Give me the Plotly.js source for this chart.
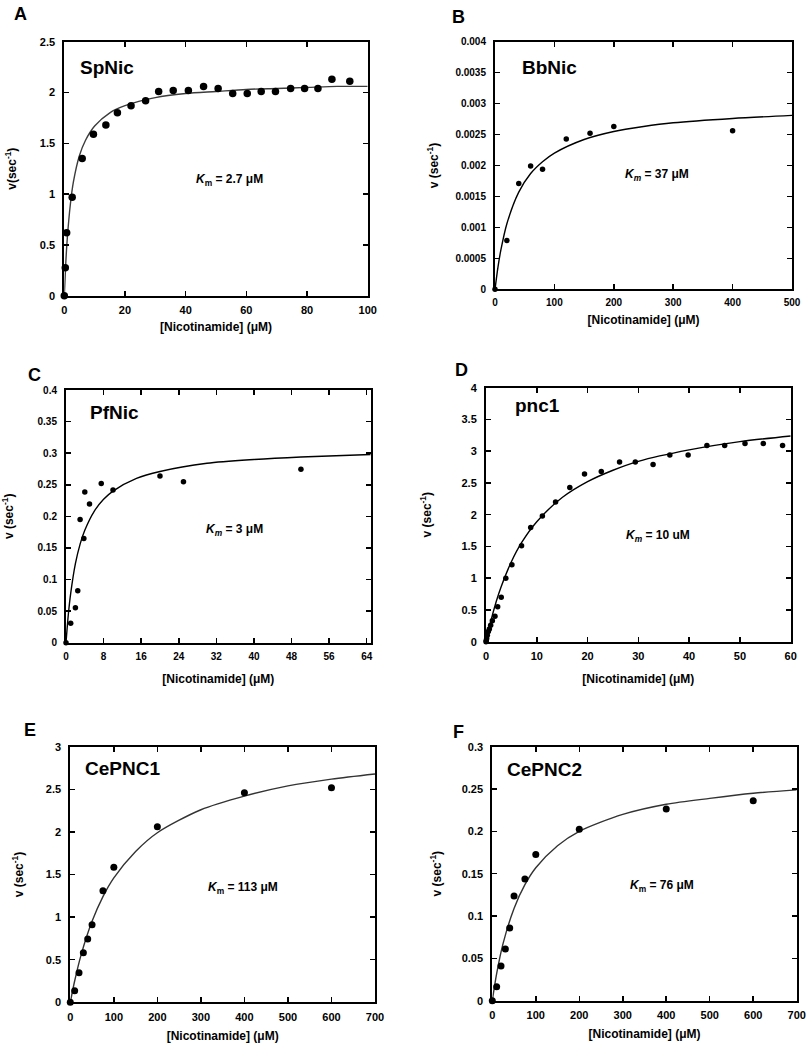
<!DOCTYPE html>
<html>
<head>
<meta charset="utf-8">
<script src="https://cdn.plot.ly/plotly-3.0.1.min.js"></script>
<style>html,body{margin:0;padding:0;background:#fff;}#chart{width:811px;height:1050px;}</style>
</head>
<body>
<div id="chart"></div>
<script>
// ---------- Data ----------
// Panel A: SpNic
const A_x = [0, 0.33, 0.77, 2.6, 5.9, 9.6, 13.7, 17.5, 22.0, 26.8, 31.1, 35.9, 40.9, 45.9, 50.7, 55.5, 60.3, 64.9, 69.6, 74.6, 79.2, 83.6, 88.2, 94.1];
const A_y = [0, 0.276, 0.62, 0.97, 1.35, 1.59, 1.68, 1.80, 1.87, 1.92, 2.01, 2.02, 2.02, 2.06, 2.04, 1.99, 1.99, 2.01, 2.01, 2.04, 2.04, 2.04, 2.13, 2.11];
const A_fitX = [0, 0.5, 1, 2, 3, 5, 7, 10, 15, 20, 30, 40, 50, 60, 70, 80, 90, 100];
const A_fitY = [0, 0.33, 0.57, 0.90, 1.12, 1.38, 1.53, 1.67, 1.80, 1.87, 1.95, 1.99, 2.01, 2.03, 2.04, 2.05, 2.06, 2.06];

// Panel B: BbNic
const B_x = [0, 20, 40, 60, 80, 120, 160, 200, 400];
const B_y = [0, 0.00079, 0.00171, 0.00199, 0.00194, 0.00243, 0.00252, 0.00263, 0.00256];
const B_fitX = [0, 5, 10, 20, 40, 60, 80, 100, 150, 200, 250, 300, 400, 500];
const B_fitY = [0, 0.00036, 0.00064, 0.00106, 0.00157, 0.00187, 0.00206, 0.00220, 0.00242, 0.00255, 0.00263, 0.00269, 0.00276, 0.00281];

// Panel C: PfNic
const C_x = [0, 1, 2, 2.5, 3, 3.8, 4, 5, 7.5, 10, 20, 25, 50];
const C_y = [0, 0.0306, 0.0554, 0.0823, 0.195, 0.165, 0.2385, 0.2195, 0.252, 0.2417, 0.2639, 0.2549, 0.2744];
const C_fitX = [0, 0.5, 1, 2, 3, 4, 6, 8, 10, 15, 20, 30, 40, 50, 64.85];
const C_fitY = [0, 0.045, 0.078, 0.125, 0.156, 0.178, 0.208, 0.227, 0.240, 0.260, 0.271, 0.284, 0.290, 0.294, 0.298];

// Panel D: pnc1
const D_x = [0, 0.05, 0.13, 0.26, 0.46, 0.66, 0.92, 1.25, 1.77, 2.3, 3.0, 3.9, 5.1, 7.0, 8.8, 11.1, 13.7, 16.5, 19.4, 22.7, 26.3, 29.4, 32.9, 36.2, 39.8, 43.5, 47.0, 51.0, 54.6, 58.4];
const D_y = [0, 0.02, 0.05, 0.10, 0.16, 0.20, 0.26, 0.33, 0.40, 0.55, 0.70, 1.00, 1.21, 1.51, 1.80, 1.98, 2.20, 2.43, 2.64, 2.68, 2.83, 2.83, 2.79, 2.94, 2.94, 3.09, 3.09, 3.12, 3.12, 3.09];
const D_fitX = [0, 1, 2, 3, 5, 7, 10, 15, 20, 25, 30, 40, 50, 60];
const D_fitY = [0, 0.34, 0.63, 0.87, 1.26, 1.56, 1.89, 2.27, 2.52, 2.70, 2.84, 3.02, 3.15, 3.24];

// Panel E: CePNC1
const E_x = [0, 10, 20, 30, 40, 50, 75, 100, 200, 400, 600];
const E_y = [0, 0.137, 0.348, 0.583, 0.743, 0.911, 1.310, 1.584, 2.061, 2.46, 2.519];
const E_fitX = [0, 10, 25, 50, 75, 100, 150, 200, 300, 400, 500, 600, 700];
const E_fitY = [0, 0.25, 0.56, 0.95, 1.24, 1.46, 1.77, 1.99, 2.26, 2.42, 2.54, 2.62, 2.68];

// Panel F: CePNC2
const F_x = [0, 10, 20, 30, 40, 50, 75, 100, 200, 400, 600];
const F_y = [0, 0.0165, 0.041, 0.061, 0.0858, 0.1236, 0.1437, 0.1728, 0.2024, 0.2264, 0.2362];
const F_fitX = [0, 10, 25, 50, 75, 100, 150, 200, 300, 400, 500, 600, 700];
const F_fitY = [0, 0.032, 0.068, 0.109, 0.137, 0.157, 0.183, 0.200, 0.220, 0.232, 0.239, 0.245, 0.249];

// Tick labels
const A_xticks = [0, 20, 40, 60, 80, 100];
const A_yticks = [0, 0.5, 1, 1.5, 2, 2.5];
const B_xticks = [0, 100, 200, 300, 400, 500];
const B_yticks = [0, 0.0005, 0.001, 0.0015, 0.002, 0.0025, 0.003, 0.0035, 0.004];
const B_yticktext = ['0', '0.0005', '0.001', '0.0015', '0.002', '0.0025', '0.003', '0.0035', '0.004'];
const C_xticks = [0, 8, 16, 24, 32, 40, 48, 56, 64];
const C_yticks = [0, 0.05, 0.1, 0.15, 0.2, 0.25, 0.3, 0.35, 0.4];
const D_xticks = [0, 10, 20, 30, 40, 50, 60];
const D_yticks = [0, 0.5, 1, 1.5, 2, 2.5, 3, 3.5, 4];
const E_xticks = [0, 100, 200, 300, 400, 500, 600, 700];
const E_yticks = [0, 0.5, 1, 1.5, 2, 2.5, 3];
const F_xticks = [0, 100, 200, 300, 400, 500, 600, 700];
const F_yticks = [0, 0.05, 0.1, 0.15, 0.2, 0.25, 0.3];

// Text
const panelLetters = ['A', 'B', 'C', 'D', 'E', 'F'];
const enzymeNames = ['SpNic', 'BbNic', 'PfNic', 'pnc1', 'CePNC1', 'CePNC2'];
const kmLabels = [
  '<i>K</i><sub>m</sub> = 2.7 μM',
  '<i>K<sub>m</sub></i> = 37 μM',
  '<i>K<sub>m</sub></i> = 3 μM',
  '<i>K<sub>m</sub></i> = 10 uM',
  '<i>K</i><sub>m</sub> = 113 μM',
  '<i>K</i><sub>m</sub> = 76 μM'
];
const xTitle = '[Nicotinamide] (μM)';
const yTitles = ['v(sec<sup>-1</sup>)', 'v (sec<sup>-1</sup>)', 'v (sec<sup>-1</sup>)', 'v (sec<sup>-1</sup>)', 'v (sec<sup>-1</sup>)', 'v (sec<sup>-1</sup>)'];

// ---------- Layout ----------
const FONT = 'Liberation Sans, Arial, Helvetica, sans-serif';
const W = 811, H = 1050;
function dx(a, b) { return [a / W, b / W]; }
function dy(top, bottom) { return [1 - bottom / H, 1 - top / H]; }

const panels = [
  { xs: A_x, ys: A_y, fx: A_fitX, fy: A_fitY, xd: dx(64.3, 367.7), yd: dy(41.7, 295.7), xr: [0, 100], yr: [0, 2.5], xt: A_xticks, yt: A_yticks, ytt: null, ms: 7.5, lc: '#3c3c3c', tfs: 11, xso: 8, yso: 21, name: [0.045, 0.900], km: [0.546, 0.455], letter: [20, 14] },
  { xs: B_x, ys: B_y, fx: B_fitX, fy: B_fitY, xd: dx(495, 792), yd: dy(41.7, 289.3), xr: [0, 500], yr: [0, 0.004], xt: B_xticks, yt: B_yticks, ytt: B_yticktext, ms: 5.5, lc: '#000', tfs: 10, xso: 8, yso: 14, name: [0.084, 0.894], km: [0.547, 0.462], letter: [458, 17] },
  { xs: C_x, ys: C_y, fx: C_fitX, fy: C_fitY, xd: dx(66, 370.7), yd: dy(390, 642.7), xr: [0, 64.85], yr: [0, 0.4], xt: C_xticks, yt: C_yticks, ytt: null, ms: 5.5, lc: '#000', tfs: 10, xso: 14, yso: 25, name: [0.071, 0.909], km: [0.553, 0.446], letter: [34, 375] },
  { xs: D_x, ys: D_y, fx: D_fitX, fy: D_fitY, xd: dx(486, 790.7), yd: dy(387.7, 641.7), xr: [0, 60], yr: [0, 4], xt: D_xticks, yt: D_yticks, ytt: null, ms: 5.5, lc: '#000', tfs: 11, xso: 14, yso: 27, name: [0.088, 0.928], km: [0.563, 0.418], letter: [461, 370] },
  { xs: E_x, ys: E_y, fx: E_fitX, fy: E_fitY, xd: dx(70.3, 375), yd: dy(746.7, 1002.3), xr: [0, 700], yr: [0, 3], xt: E_xticks, yt: E_yticks, ytt: null, ms: 7, lc: '#333', tfs: 11, xso: 10, yso: 20, name: [0.043, 0.913], km: [0.567, 0.447], letter: [30, 730] },
  { xs: F_x, ys: F_y, fx: F_fitX, fy: F_fitY, xd: dx(492.3, 796.7), yd: dy(746.7, 1000.7), xr: [0, 700], yr: [0, 0.3], xt: F_xticks, yt: F_yticks, ytt: null, ms: 7, lc: '#333', tfs: 11, xso: 10, yso: 17, name: [0.042, 0.912], km: [0.556, 0.452], letter: [458, 732] }
];

const data = [];
const layout = {
  width: W, height: H,
  margin: { l: 0, r: 0, t: 0, b: 0 },
  paper_bgcolor: '#fff', plot_bgcolor: '#fff',
  showlegend: false,
  font: { family: FONT, color: '#000' },
  annotations: []
};

panels.forEach((p, i) => {
  const n = i + 1;
  const xk = n === 1 ? 'x' : 'x' + n;
  const yk = n === 1 ? 'y' : 'y' + n;
  const xaName = n === 1 ? 'xaxis' : 'xaxis' + n;
  const yaName = n === 1 ? 'yaxis' : 'yaxis' + n;

  data.push({
    x: p.fx, y: p.fy, xaxis: xk, yaxis: yk, type: 'scatter', mode: 'lines',
    line: { color: p.lc, width: 1.4, shape: 'spline', smoothing: 0.8 },
    hoverinfo: 'skip', cliponaxis: true
  });
  data.push({
    x: p.xs, y: p.ys, xaxis: xk, yaxis: yk, type: 'scatter', mode: 'markers',
    marker: { color: '#000', size: p.ms }, cliponaxis: false
  });

  const common = {
    showline: true, linewidth: 2, linecolor: '#000', mirror: 'ticks',
    ticks: 'inside', ticklen: 5, tickwidth: 1.5, tickcolor: '#000',
    showgrid: false, zeroline: false, tickmode: 'array',
    tickfont: { family: FONT, size: p.tfs, color: '#000', weight: 'bold' }
  };
  layout[xaName] = Object.assign({}, common, {
    domain: p.xd, range: p.xr, anchor: yk,
    tickvals: p.xt, ticktext: p.xt.map(String),
    ticklabelstandoff: 3,
    title: { text: xTitle, font: { family: FONT, size: 12, weight: 'bold', color: '#000' }, standoff: p.xso }
  });
  layout[yaName] = Object.assign({}, common, {
    domain: p.yd, range: p.yr, anchor: xk,
    tickvals: p.yt, ticktext: p.ytt ? p.ytt : p.yt.map(String),
    ticklabelstandoff: 5,
    title: { text: yTitles[i], font: { family: FONT, size: 12, weight: 'bold', color: '#000' }, standoff: p.yso }
  });

  layout.annotations.push({
    text: enzymeNames[i], xref: xk + ' domain', yref: yk + ' domain',
    x: p.name[0], y: p.name[1], xanchor: 'left', yanchor: 'middle', showarrow: false,
    font: { family: FONT, size: 19, weight: 'bold', color: '#000' }
  });
  layout.annotations.push({
    text: kmLabels[i], xref: xk + ' domain', yref: yk + ' domain',
    x: p.km[0], y: p.km[1], xanchor: 'center', yanchor: 'middle', showarrow: false,
    font: { family: FONT, size: 12, weight: 'bold', color: '#000' }
  });
  layout.annotations.push({
    text: panelLetters[i], xref: 'paper', yref: 'paper',
    x: p.letter[0] / W, y: 1 - p.letter[1] / H, xanchor: 'center', yanchor: 'middle', showarrow: false,
    font: { family: FONT, size: 18, weight: 'bold', color: '#000' }
  });
});

Plotly.newPlot('chart', data, layout, { staticPlot: true, displayModeBar: false });
</script>
</body>
</html>
